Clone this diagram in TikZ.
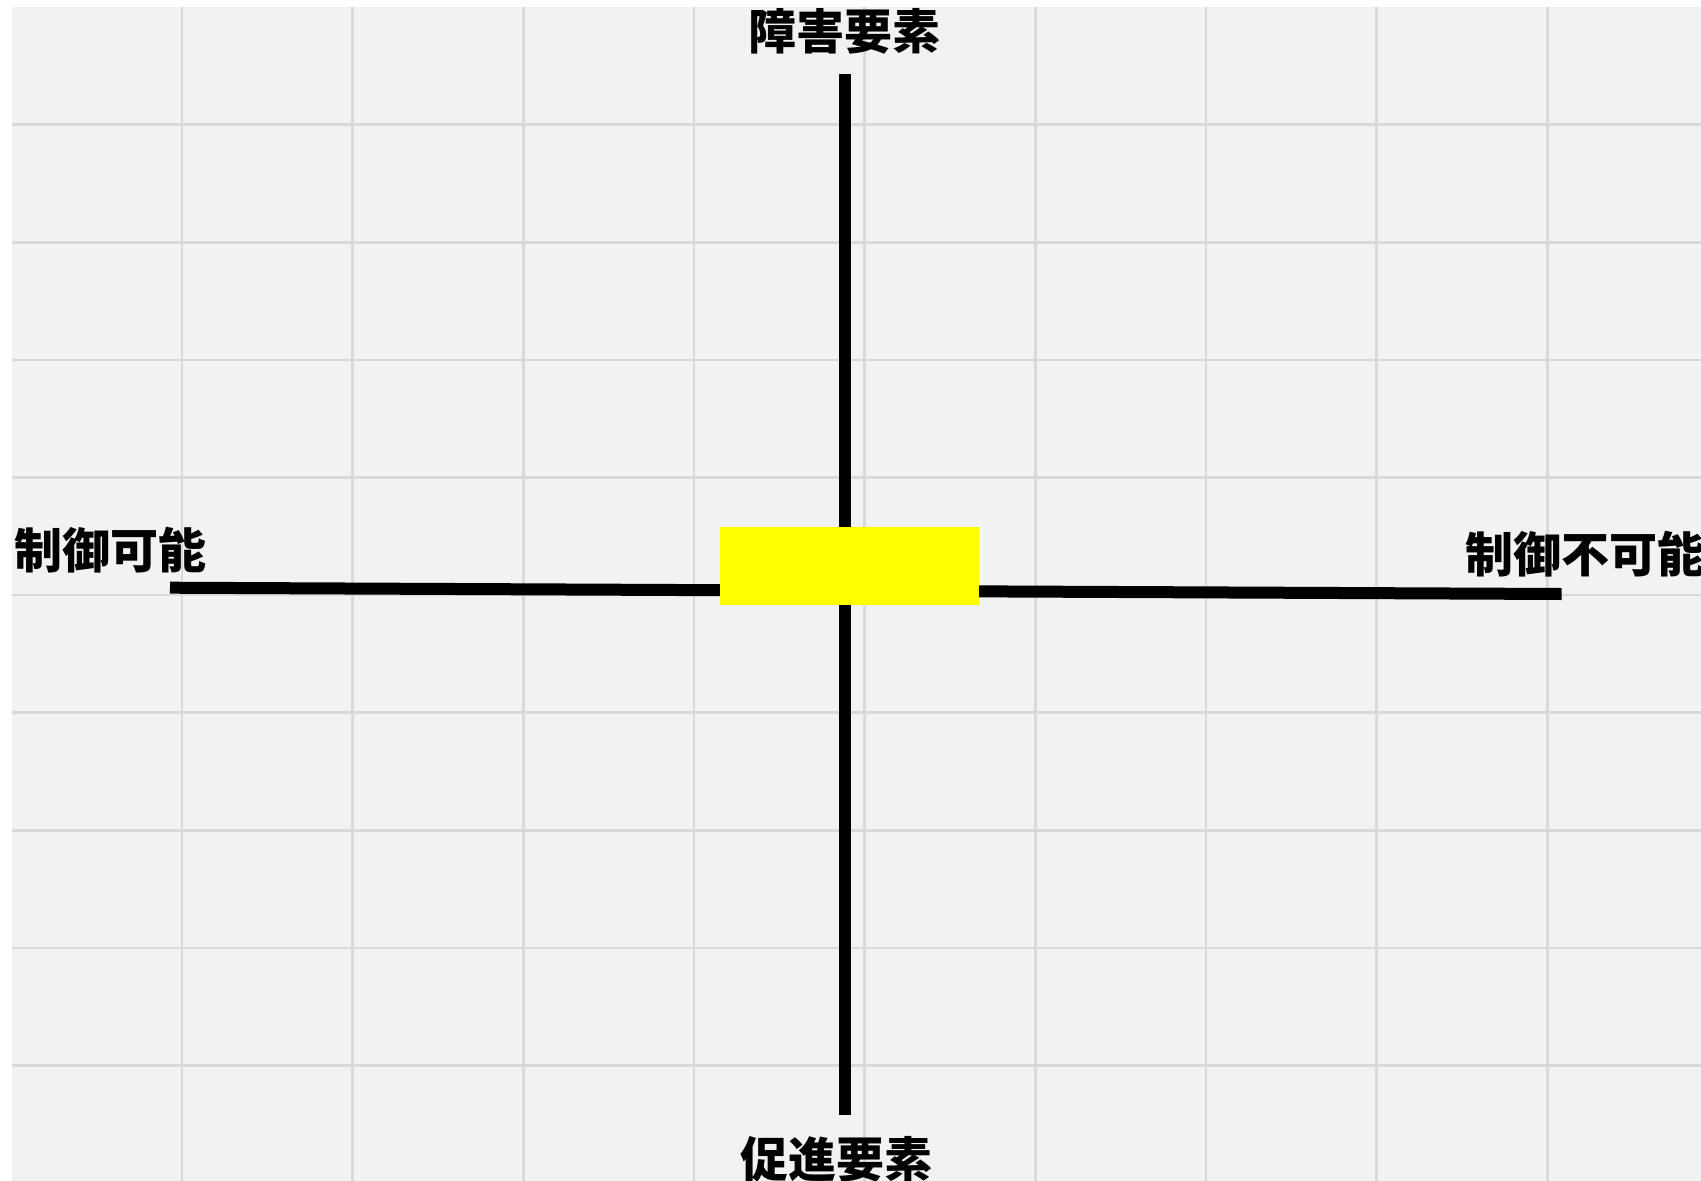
\documentclass[tikz,border=0pt]{standalone}
\usepackage{fontspec}
\newfontfamily\jp{Noto Sans CJK JP}
\definecolor{bggray}{HTML}{F2F2F2}
\definecolor{gridgray}{HTML}{D9D9D9}
\definecolor{boxyellow}{HTML}{FFFF00}
\begin{document}
\begin{tikzpicture}[x=1pt,y=-1pt,
  gridline/.style={draw=gridgray,line width=2.6pt},
  axisline/.style={draw=black,line width=12pt},
  axislabel/.style={inner sep=0pt,anchor=base,font=\jp\bfseries\fontsize{48}{52}\selectfont,text=black},
  centerbox/.style={fill=boxyellow,draw=none,minimum width=259pt,minimum height=78pt,inner sep=0pt}]
\useasboundingbox (0,0) rectangle (1701,1181);
\clip (0,0) rectangle (1701,1181);
\fill[white] (0,0) rectangle (1701,1181);
\fill[bggray] (12,7) rectangle (1701,1181);
% grid
\foreach \k in {0,...,8} {
  \draw[gridline] ({182+\k*170.66},7) -- ({182+\k*170.66},1181);
  \draw[gridline] (12,{124.7+\k*117.6}) -- (1701,{124.7+\k*117.6});
}
% axes
\coordinate (top) at (845,74);
\coordinate (bottom) at (845,1115);
\coordinate (left) at (170,587.7);
\coordinate (right) at (1561.7,594);
\draw[axisline] (top) -- (bottom);
\draw[axisline] (left) -- (right);
% centre box
\node[centerbox] (box) at (849.5,566) {};
% labels
\node[axislabel] (hindrance) at (844,49) {障害要素};
\node[axislabel] (promotion) at (836,1177) {促進要素};
\node[axislabel,anchor=base west] (controllable) at (14,568.5) {制御可能};
\node[axislabel,anchor=base west] (uncontrollable) at (1465,572) {制御不可能};
\end{tikzpicture}
\end{document}
